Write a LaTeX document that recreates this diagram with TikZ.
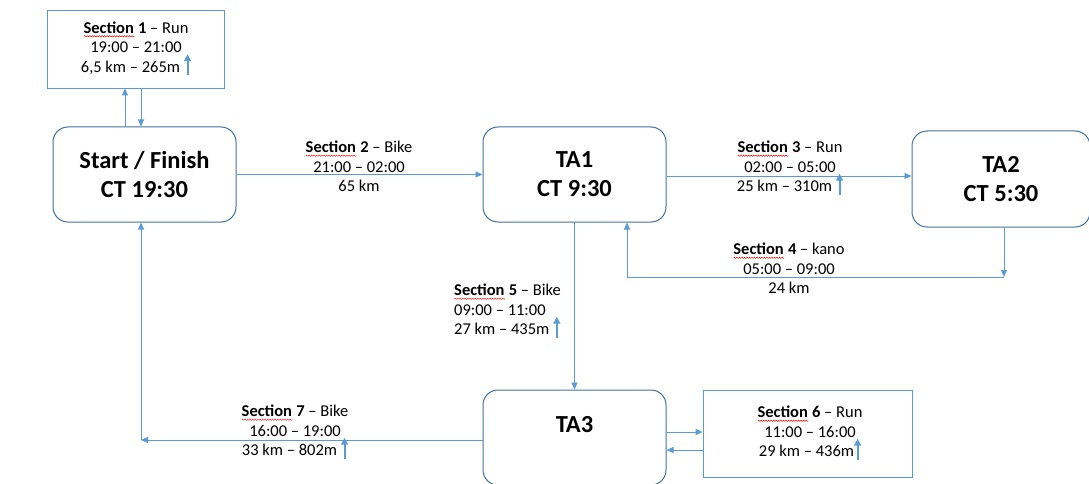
\documentclass[tikz,border=0pt]{standalone}
\usepackage{fontspec}
\setmainfont{Carlito}
\usetikzlibrary{arrows.meta,decorations.pathmorphing}

\definecolor{linkblue}{HTML}{5B9BD5}
\definecolor{boxblue}{HTML}{41719C}

\newlength{\spellw}
\newcommand{\spellmark}[1]{\settowidth{\spellw}{#1}\leavevmode\rlap{#1}\tikz[baseline=0pt]\draw[red, line width=0.5pt, decorate, decoration={snake, amplitude=0.6pt, segment length=2.5pt}] (0pt,-3pt) -- (\spellw,-3pt);}
\newcommand{\climb}{\smash{\tikz[baseline=0pt]\draw[-{Triangle[length=7pt,width=7pt]}, draw=linkblue, fill=linkblue, line width=2pt] (0pt,-3pt) -- (0pt,18pt);}}
\newcommand{\sect}[1]{\spellmark{\textbf{Section}}\ \textbf{#1}}

\begin{document}
\begin{tikzpicture}[x=1pt,y=-1pt]
	\tikzset{stage/.style = {shape=rectangle, rounded corners=15pt, draw=boxblue, line width=1pt, minimum width=183pt, minimum height=95pt, align=center, font=\fontsize{24.5}{29}\selectfont\bfseries}}
	\tikzset{runbox/.style = {shape=rectangle, draw=linkblue, line width=0.8pt}}
	\tikzset{info/.style = {align=center, inner sep=0pt, font=\fontsize{16.5}{19.5}\selectfont}}
	\tikzset{link/.style = {-{Triangle[length=7pt,width=6pt]}, draw=linkblue, line width=0.9pt}}
	\useasboundingbox (0,0) rectangle (1089,484);
	% stages
	\node[stage] (start) at (144.5,174.5) {Start / Finish\\CT 19:30};
	\node[stage] (ta1) at (574.5,174.5) {TA1\\CT 9:30};
	\node[stage, minimum width=178pt, minimum height=96pt] (ta2) at (1001,179) {TA2\\CT 5:30};
	\node[stage] (ta3) at (574.5,437.5) {TA3\\[-12pt]\strut};
	% run loops
	\node[runbox, minimum width=177pt, minimum height=78pt] (sec1box) at (135.5,49) {};
	\node[info] (sec1) at (136,48) {\sect{1} -- Run\\19:00 -- 21:00\\6,5 km -- 265m\hspace{4pt}\climb};
	\node[runbox, minimum width=209pt, minimum height=87pt] (sec6box) at (807.5,433.5) {};
	\node[info] (sec6) at (810,431.5) {\sect{6} -- Run\\11:00 -- 16:00\\29 km -- 436m\climb};
	% section labels
	\node[info] (sec2) at (359,166.5) {\sect{2} -- Bike\\21:00 -- 02:00\\65 km};
	\node[info] (sec3) at (790,166.5) {\sect{3} -- Run\\02:00 -- 05:00\\25 km -- 310m\hspace{4pt}\climb};
	\node[info] (sec4) at (789,268.5) {\sect{4} -- kano\\05:00 -- 09:00\\24 km};
	\node[info, align=left, anchor=west] (sec5) at (454,309.5) {\sect{5} -- Bike\\09:00 -- 11:00\\27 km -- 435m\hspace{4pt}\climb};
	\node[info] (sec7) at (295,430.5) {\sect{7} -- Bike\\16:00 -- 19:00\\33 km -- 802m\hspace{4pt}\climb};
	\coordinate (k4) at (1004,277);
	\coordinate (k4end) at (627,277);
	\coordinate (k7) at (141,440);
	% connectors
	\draw[link] ([xshift=-19.5pt]start.north) -- ([xshift=-19.5pt]start.north |- sec1box.south);
	\draw[link] ([xshift=-3.5pt]start.north |- sec1box.south) -- ([xshift=-3.5pt]start.north);
	\draw[link] (start.east) -- (ta1.west);
	\draw[link] ([yshift=-1.5pt]ta1.east) -- ([yshift=-1.5pt]ta1.east -| ta2.west);
	\draw[link] (ta2.south -| k4) -- (k4);
	\draw[link] (k4) -- (k4end) -- (ta1.south -| k4end);
	\draw[link] (ta1.south) -- (ta3.north);
	\draw[link] ([yshift=5.5pt]ta3.east) -- ([yshift=5.5pt]ta3.east -| sec6box.west);
	\draw[link] ([yshift=-16.5pt]sec6box.west) -- ([yshift=-16.5pt]sec6box.west -| ta3.east);
	\draw[link] (ta3.west |- k7) -- (k7);
	\draw[link] (k7) -- (start.south -| k7);
\end{tikzpicture}
\end{document}
